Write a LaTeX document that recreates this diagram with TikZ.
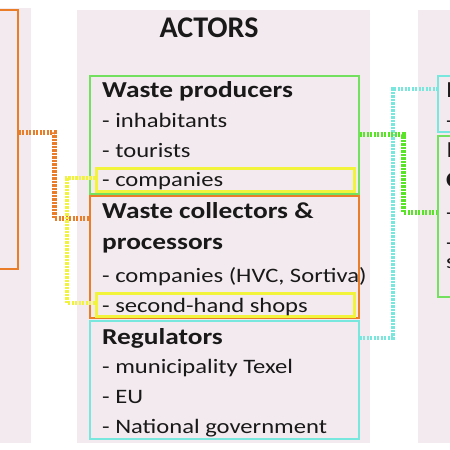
\documentclass[tikz,border=0pt]{standalone}
\usepackage{fontspec}
\setmainfont{Carlito}[FakeStretch=1.2]
\newfontfamily\titlefont{Carlito}
\definecolor{panel}{RGB}{243,234,239}
\definecolor{txt}{RGB}{25,25,25}
\definecolor{orng}{RGB}{234,125,40}
\definecolor{grnbox}{RGB}{115,225,95}
\definecolor{grnln}{RGB}{90,228,40}
\definecolor{yel}{RGB}{242,244,60}
\definecolor{cyn}{RGB}{120,232,222}
\tikzset{
  panelfill/.style={fill=panel, draw=none},
  boxnode/.style={rectangle, inner sep=0pt, line width=1.5pt, anchor=north west},
  hlbox/.style={rectangle, inner sep=0pt, line width=2.5pt, draw=yel, anchor=north west},
  hd/.style={anchor=base west, inner sep=0pt, text=txt, font=\fontsize{22.8}{26}\selectfont\bfseries},
  it/.style={anchor=base west, inner sep=0pt, text=txt, font=\fontsize{20.5}{24}\selectfont},
  conn/.style={line width=5pt, dash pattern=on 2.3pt off 1.2pt},
}
\begin{document}
\begin{tikzpicture}[x=1pt,y=-1pt]
\useasboundingbox (0,0) rectangle (450,450);
\clip (0,0) rectangle (450,450);
\fill[white] (0,0) rectangle (450,450);
% panels
\fill[panelfill] (0,8) rectangle (31,443);
\fill[panelfill] (77,10) rectangle (370,443);
\fill[panelfill] (418,10) rectangle (470,443);
% title
\node[anchor=base, inner sep=0pt, text=txt, font=\titlefont\fontsize{30}{34}\selectfont\bfseries] (title) at (209,37) {ACTORS};
% left box
\node[boxnode, draw=orng, minimum width=40pt, minimum height=259pt] (lbox) at (-23,9) {};
% middle boxes
\node[boxnode, draw=grnbox, minimum width=269pt, minimum height=118pt] (prod) at (89,75) {};
\node[boxnode, draw=orng, minimum width=269pt, minimum height=122pt] (coll) at (89,195) {};
\node[boxnode, draw=cyn, minimum width=269pt, minimum height=118pt] (reg) at (89,320) {};
\node[hlbox, minimum width=258pt, minimum height=23pt] (comp1) at (95,167) {};
\node[hlbox, minimum width=258pt, minimum height=23pt] (comp2) at (95,292) {};
% right boxes
\node[boxnode, draw=cyn, minimum width=60pt, minimum height=56pt] (rcyan) at (437,75) {};
\node[boxnode, draw=grnbox, minimum width=60pt, minimum height=161pt] (rgreen) at (437,135) {};
% texts
\node[hd] (p0) at (102,97) {Waste producers};
\node[it] (p1) at (102,127) {- inhabitants};
\node[it] (p2) at (102,157) {- tourists};
\node[it] (p3) at (102,186) {- companies};
\node[hd] (c0) at (102,218) {Waste collectors \&};
\node[hd] (c1) at (102,249) {processors};
\node[it] (c2) at (102,282) {- companies (HVC, Sortiva)};
\node[it] (c3) at (102,312) {- second-hand shops};
\node[hd] (r0) at (102,344) {Regulators};
\node[it] (r1) at (102,373) {- municipality Texel};
\node[it] (r2) at (102,403) {- EU};
\node[it] (r3) at (102,433) {- National government};
\node[hd] (q0) at (446.5,97) {P};
\node[it] (q1) at (446,127) {-};
\node[hd] (g0) at (446.5,157) {I};
\node[hd] (g1) at (446,187) {C};
\node[it] (g2) at (446,219) {-};
\node[it] (g3) at (446,249) {-};
\node[it] (g4) at (446,268) {s};
% connectors
\draw[conn, draw=orng] ([yshift=6.5pt]lbox.east) -- ++(36,0) |- ([yshift=38pt]coll.west);
\draw[conn, draw=yel, line width=4pt] ([yshift=1.5pt]comp1.west) -- ++(-28,0) |- ([yshift=1.5pt]comp2.west);
\draw[conn, draw=cyn, line width=4pt] ([yshift=42pt]reg.east) -- ++(33,0) |- ([yshift=15pt]rcyan.west);
\draw[conn, draw=grnln, line width=5pt] (prod.east) -- ++(44,0) |- ([yshift=3.5pt]rgreen.west);
\end{tikzpicture}
\end{document}
